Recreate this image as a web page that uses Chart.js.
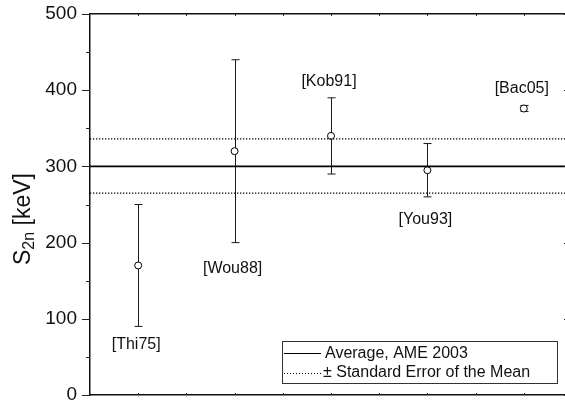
<!DOCTYPE html>
<html>
<head>
<meta charset="utf-8">
<script src="https://cdn.jsdelivr.net/npm/chart.js@4/dist/chart.umd.min.js"></script>
<style>
  html, body { margin: 0; padding: 0; background: #fff; overflow: hidden; }
  #wrap { width: 600px; height: 403px; }
</style>
</head>
<body>
<div id="wrap"><canvas id="c" width="600" height="403"></canvas></div>
<script>
// Two-neutron separation energy measurements and their uncertainties
const refs = ['[Thi75]', '[Wou88]', '[Kob91]', '[You93]', '[Bac05]'];
const s2n = [170, 320, 340, 295, 376];
const s2nErr = [80, 120, 50, 35, 4];
// where each reference tag sits (keV scale)
const refLabelAt = [66, 166, 411, 230, 402];

// AME 2003 average and the band of the standard error of the mean
const average = 300;
const semLow = 265;
const semHigh = 336;

const yTickValues = [0, 100, 200, 300, 400, 500];

const FONT = "'Liberation Sans', Arial, Helvetica, sans-serif";
const INK = '#111';

const xs = refs.map((_, i) => i + 1);
const points = xs.map((x, i) => ({ x: x, y: s2n[i] }));
const hline = v => [{ x: 0.5, y: v }, { x: 5.5, y: v }];

// Error bars under the open circles
const errorBars = {
  id: 'errorBars',
  beforeDatasetDraw(chart, args) {
    if (args.index !== 3) return;
    const { ctx, scales: { x, y } } = chart;
    ctx.save();
    ctx.strokeStyle = '#1a1a1a';
    ctx.lineWidth = 1;
    xs.forEach((xv, i) => {
      const px = Math.round(x.getPixelForValue(xv)) + 0.5;
      const top = y.getPixelForValue(s2n[i] + s2nErr[i]);
      const bot = y.getPixelForValue(s2n[i] - s2nErr[i]);
      ctx.beginPath();
      ctx.moveTo(px, top); ctx.lineTo(px, bot);
      ctx.moveTo(px - 4, top); ctx.lineTo(px + 4, top);
      ctx.moveTo(px - 4, bot); ctx.lineTo(px + 4, bot);
      ctx.stroke();
    });
    ctx.restore();
  }
};

// Tick marks on all four sides, reference tags, axis title and legend box
const decorations = {
  id: 'decorations',
  afterDraw(chart) {
    const { ctx, chartArea: a, scales: { x, y } } = chart;
    ctx.save();
    ctx.strokeStyle = '#222';
    ctx.lineWidth = 1;
    // left axis: majors outward 8px, minors outward 4px
    for (let v = 0; v <= 500; v += 50) {
      const py = Math.round(y.getPixelForValue(v)) + 0.5;
      const len = v % 100 === 0 ? 8 : 4;
      ctx.beginPath();
      ctx.moveTo(a.left - len, py); ctx.lineTo(a.left, py);
      ctx.stroke();
      // right axis: inward
      ctx.beginPath();
      ctx.moveTo(a.right - len, py); ctx.lineTo(a.right, py);
      ctx.stroke();
    }
    // top and bottom axes: short inward ticks every half unit
    for (let v = 1; v <= 5.5; v += 0.5) {
      const px = Math.round(x.getPixelForValue(v)) + 0.5;
      ctx.beginPath();
      ctx.moveTo(px, a.top); ctx.lineTo(px, a.top + 2);
      ctx.moveTo(px, a.bottom); ctx.lineTo(px, a.bottom - 2);
      ctx.stroke();
    }

    // reference tags
    ctx.fillStyle = INK;
    ctx.font = '16px ' + FONT;
    ctx.textAlign = 'center';
    ctx.textBaseline = 'middle';
    refs.forEach((r, i) => {
      ctx.fillText(r, x.getPixelForValue(xs[i]) - 2, y.getPixelForValue(refLabelAt[i]));
    });

    // y-axis title: S with subscript 2n, then [keV]
    ctx.save();
    ctx.translate(30, 265);
    ctx.rotate(-Math.PI / 2);
    ctx.textAlign = 'left';
    ctx.textBaseline = 'alphabetic';
    ctx.font = '23px ' + FONT;
    ctx.fillText('S', 0, 0);
    let off = ctx.measureText('S').width;
    ctx.font = '16px ' + FONT;
    ctx.fillText('2n', off, 4);
    off += ctx.measureText('2n').width;
    ctx.font = '23px ' + FONT;
    ctx.fillText(' [keV]', off, 0);
    ctx.restore();

    // legend box
    const bx = a.left + 192, by = a.bottom - 54, bw = 275, bh = 42;
    ctx.fillStyle = '#fff';
    ctx.fillRect(bx, by, bw, bh);
    ctx.strokeStyle = '#333';
    ctx.lineWidth = 1;
    ctx.strokeRect(bx + 0.5, by + 0.5, bw, bh);
    const row1 = by + 12.5, row2 = by + 32;
    ctx.strokeStyle = '#000';
    ctx.lineWidth = 1.2;
    ctx.beginPath();
    ctx.moveTo(bx + 2, row1); ctx.lineTo(bx + 39, row1);
    ctx.stroke();
    ctx.setLineDash([1, 2]);
    ctx.lineWidth = 1;
    ctx.beginPath();
    ctx.moveTo(bx + 2, row2 + 0.5); ctx.lineTo(bx + 39, row2 + 0.5);
    ctx.stroke();
    ctx.setLineDash([]);
    ctx.fillStyle = INK;
    ctx.font = '16px ' + FONT;
    ctx.textAlign = 'left';
    ctx.textBaseline = 'middle';
    ctx.fillText('Average, AME 2003', bx + 43, row1);
    ctx.fillText('\u00B1 Standard Error of the Mean', bx + 41, row2);
    ctx.restore();
  }
};

const frame = { display: true, color: '#111', width: 1.5 };

new Chart(document.getElementById('c'), {
  data: {
    datasets: [
      { type: 'line', data: hline(average), borderColor: '#000', borderWidth: 1.6, pointRadius: 0 },
      { type: 'line', data: hline(semLow), borderColor: '#000', borderWidth: 1.3, borderDash: [1.3, 1.7], pointRadius: 0 },
      { type: 'line', data: hline(semHigh), borderColor: '#000', borderWidth: 1.3, borderDash: [1.3, 1.7], pointRadius: 0 },
      { type: 'scatter', data: points, pointStyle: 'circle', pointRadius: 3.5, pointHoverRadius: 3.5,
        backgroundColor: '#fff', borderColor: '#000', borderWidth: 1 }
    ]
  },
  options: {
    responsive: false,
    animation: false,
    devicePixelRatio: 1,
    layout: { padding: 0 },
    plugins: { legend: { display: false }, tooltip: { enabled: false } },
    scales: {
      x: {
        type: 'linear', position: 'bottom', min: 0.5, max: 5.5,
        ticks: { display: false }, grid: { display: false, drawTicks: false }, border: frame,
        afterFit(s) { s.height = 8; }
      },
      x2: {
        type: 'linear', position: 'top', min: 0.5, max: 5.5,
        ticks: { display: false }, grid: { display: false, drawTicks: false }, border: frame,
        afterFit(s) { s.height = 14; }
      },
      y: {
        type: 'linear', position: 'left', min: 0, max: 500,
        afterBuildTicks(s) { s.ticks = yTickValues.map(v => ({ value: v })); },
        ticks: { color: INK, font: { family: FONT, size: 19 }, padding: 13 },
        grid: { display: false, drawTicks: false }, border: frame,
        afterFit(s) { s.width = 90; s.paddingTop = 0; s.paddingBottom = 0; }
      },
      y2: {
        type: 'linear', position: 'right', min: 0, max: 500,
        ticks: { display: false }, grid: { display: false, drawTicks: false }, border: frame,
        afterFit(s) { s.width = 28; }
      }
    }
  },
  plugins: [errorBars, decorations]
});
</script>
</body>
</html>
